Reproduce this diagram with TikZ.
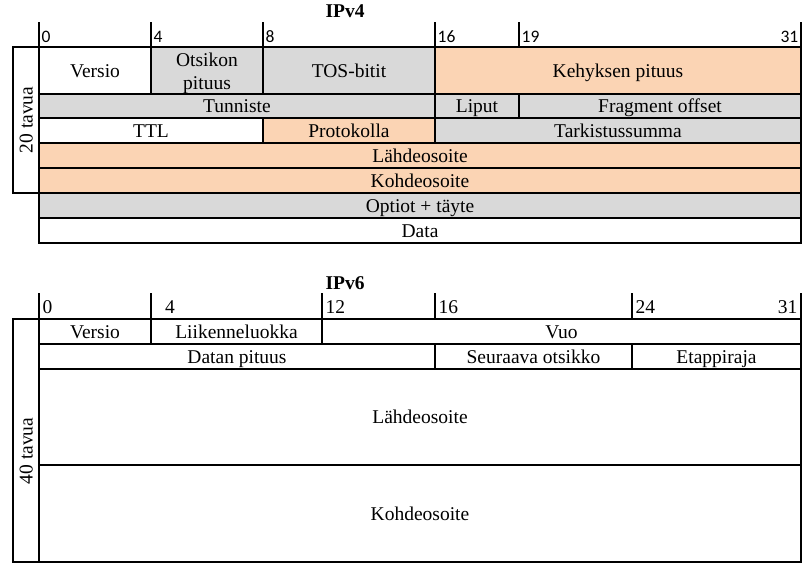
\documentclass[tikz,border=0pt]{standalone}
\usepackage{fontspec}
\setmainfont{Liberation Serif}
\newfontfamily\numfont{Carlito}
\definecolor{grayfield}{HTML}{D9D9D9}
\definecolor{peach}{HTML}{FBD4B4}

\begin{document}
\begin{tikzpicture}[x=1pt, y=-1pt,
  cell/.style={line width=1.8pt, draw=black},
  txt/.style={inner sep=0pt, text height=13pt, text depth=0pt, font=\fontsize{19.5}{23}\selectfont},
  twoline/.style={inner sep=0pt, align=center, font=\fontsize{19.5}{23}\selectfont},
  title/.style={txt, font=\fontsize{19.5}{23}\selectfont\bfseries},
  numsans/.style={inner sep=0pt, anchor=base west, font=\numfont\fontsize{17.5}{20}\selectfont},
  numserif/.style={inner sep=0pt, anchor=base west, font=\fontsize{19.5}{23}\selectfont}]

  \useasboundingbox (0,0) rectangle (811,574);

  % IPv4 header
  \node[title] (ipv4) at (345,11) {IPv4};
  \foreach \x in {39,151,263,435,519,801}
    \draw[cell] (\x,22) -- (\x,47);
  \node[numsans] (b0) at (41.5,42) {0};
  \node[numsans] (b4) at (153.5,42) {4};
  \node[numsans] (b8) at (265.5,42) {8};
  \node[numsans] (b16) at (437.5,42) {16};
  \node[numsans] (b19) at (521.5,42) {19};
  \node[numsans, anchor=base east] (b31) at (798.5,42) {31};

  % first row
  \filldraw[cell, fill=white] (39,47) rectangle (151,94);
  \node[txt] (versio4) at (95,70.5) {Versio};
  \filldraw[cell, fill=grayfield] (151,47) rectangle (263,94);
  \node[twoline] (otsikko) at (207,73) {Otsikon\\pituus};
  \filldraw[cell, fill=grayfield] (263,47) rectangle (435,94);
  \node[txt] (tos) at (349,70.5) {TOS-bitit};
  \filldraw[cell, fill=peach] (435,47) rectangle (801,94);
  \node[txt] (kehys) at (618,70.5) {Kehyksen pituus};

  % second and third rows
  \filldraw[cell, fill=grayfield] (39,94) rectangle (435,118);
  \node[txt] (tunniste) at (237,106) {Tunniste};
  \filldraw[cell, fill=grayfield] (435,94) rectangle (519,118);
  \node[txt] (liput) at (477,106) {Liput};
  \filldraw[cell, fill=grayfield] (519,94) rectangle (801,118);
  \node[txt] (fragment) at (660,106) {Fragment offset};
  \filldraw[cell, fill=white] (39,118) rectangle (263,143);
  \node[txt] (ttl) at (151,130.5) {TTL};
  \filldraw[cell, fill=peach] (263,118) rectangle (435,143);
  \node[txt] (protokolla) at (349,130.5) {Protokolla};
  \filldraw[cell, fill=grayfield] (435,118) rectangle (801,143);
  \node[txt] (summa) at (618,130.5) {Tarkistussumma};

  % addresses, options and data
  \filldraw[cell, fill=peach] (39,143) rectangle (801,168);
  \node[txt] (lahde4) at (420,155.5) {Lähdeosoite};
  \filldraw[cell, fill=peach] (39,168) rectangle (801,193);
  \node[txt] (kohde4) at (420,180.5) {Kohdeosoite};
  \filldraw[cell, fill=grayfield] (39,193) rectangle (801,218);
  \node[txt] (optiot) at (420,205.5) {Optiot + täyte};
  \filldraw[cell, fill=white] (39,218) rectangle (801,243);
  \node[txt] (data) at (420,230.5) {Data};

  % length box
  \draw[cell] (13,47) rectangle (39,193);
  \node[txt, rotate=90] (len4) at (26,120) {20 tavua};

  % IPv6 header
  \node[title] (ipv6) at (345,282.5) {IPv6};
  \foreach \x in {39,151,322,435,632,801}
    \draw[cell] (\x,293) -- (\x,319);
  \node[numserif] (c0) at (42.5,313.5) {0};
  \node[numserif] (c4) at (165,313.5) {4};
  \node[numserif] (c12) at (325.5,313.5) {12};
  \node[numserif] (c16) at (438.5,313.5) {16};
  \node[numserif] (c24) at (635.5,313.5) {24};
  \node[numserif, anchor=base east] (c31) at (797.5,313.5) {31};

  % first and second rows
  \filldraw[cell, fill=white] (39,319) rectangle (151,344);
  \node[txt] (versio6) at (95,331.5) {Versio};
  \filldraw[cell, fill=white] (151,319) rectangle (322,344);
  \node[txt] (luokka) at (236.5,331.5) {Liikenneluokka};
  \filldraw[cell, fill=white] (322,319) rectangle (801,344);
  \node[txt] (vuo) at (561.5,331.5) {Vuo};
  \filldraw[cell, fill=white] (39,344) rectangle (435,369);
  \node[txt] (datapit) at (237,356.5) {Datan pituus};
  \filldraw[cell, fill=white] (435,344) rectangle (632,369);
  \node[txt] (seuraava) at (533.5,356.5) {Seuraava otsikko};
  \filldraw[cell, fill=white] (632,344) rectangle (801,369);
  \node[txt] (etappi) at (716.5,356.5) {Etappiraja};

  % addresses
  \filldraw[cell, fill=white] (39,369) rectangle (801,465);
  \node[txt] (lahde6) at (420,417) {Lähdeosoite};
  \filldraw[cell, fill=white] (39,465) rectangle (801,562);
  \node[txt] (kohde6) at (420,513.5) {Kohdeosoite};

  % length box
  \draw[cell] (13,319) rectangle (39,562);
  \node[txt, rotate=90] (len6) at (26,451) {40 tavua};

\end{tikzpicture}
\end{document}
